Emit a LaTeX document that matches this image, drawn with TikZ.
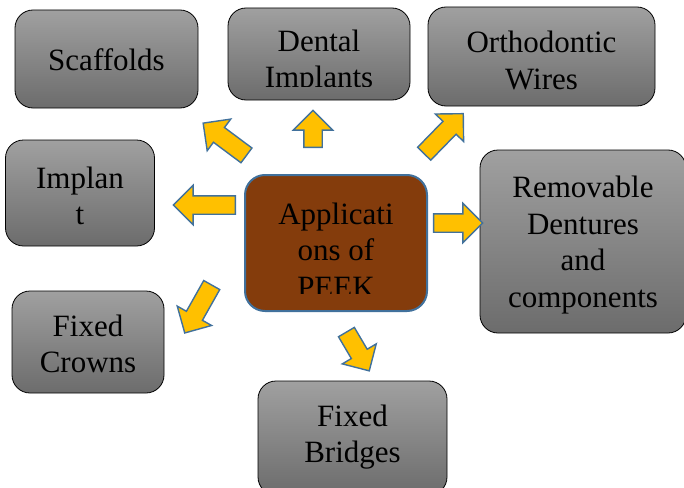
\documentclass[tikz,border=0pt]{standalone}
\usepackage{fontspec}
\setmainfont{Liberation Serif}
\newfontfamily\boxfont{Liberation Serif}
\usepackage{tikz}
\usetikzlibrary{shapes.arrows}
\definecolor{boxtop}{RGB}{160,160,160}
\definecolor{boxbottom}{RGB}{108,108,108}
\definecolor{peekbrown}{RGB}{132,60,12}
\definecolor{edgeblue}{RGB}{65,113,156}
\definecolor{arrowgold}{RGB}{255,192,0}

\begin{document}
\begin{tikzpicture}[x=1pt, y=-1pt, font=\boxfont\fontsize{31}{36.5}\selectfont,
  appbox/.style={rectangle, rounded corners=18pt, draw=black, line width=0.8pt, top color=boxtop, bottom color=boxbottom, align=center, inner sep=0pt},
  hubbox/.style={rectangle, rounded corners=20pt, draw=edgeblue, line width=2pt, fill=peekbrown, align=center, inner sep=0pt},
  boxtext/.style={align=center, inner sep=0pt},
  pointer/.style={single arrow, draw=edgeblue, fill=arrowgold, line width=1.4pt, inner xsep=0pt, inner ysep=8.5pt, single arrow head extend=10.5pt, single arrow tip angle=90, minimum height=#1}]
%
\clip (0,0) rectangle (684,487);

% APPLICATIONS OF PEEK
\node [hubbox, minimum width=182pt, minimum height=136pt] (peek) at (336,243) {};
\begin{scope}
\clip (peek.north west) rectangle ([yshift=19pt]peek.south east);
\node [boxtext] (peektext) at (336,250) {Applicati\\ons of\\PEEK};
\end{scope}

% SCAFFOLDS
\node [appbox, minimum width=183pt, minimum height=98pt] (scaff) at (106.5,59) {};
\node [boxtext] (scafftext) at (106.5,60) {Scaffolds};
% DENTAL IMPLANTS
\node [appbox, minimum width=182pt, minimum height=92pt] (dental) at (319,54) {};
\begin{scope}
\clip (dental.north west) rectangle ([yshift=14pt]dental.south east);
\node [boxtext] (dentaltext) at (319,62) {Dental\\Implants};
\end{scope}
% ORTHODONTIC WIRES
\node [appbox, minimum width=227pt, minimum height=99pt] (ortho) at (541.5,56.5) {};
\node [boxtext] (orthotext) at (541.5,60.5) {Orthodontic\\Wires};
% IMPLANT
\node [appbox, minimum width=149pt, minimum height=106pt] (implant) at (80,193) {};
\node [boxtext] (implanttext) at (80,196) {Implan\\t};
% REMOVABLE DENTURES
\node [appbox, minimum width=206pt, minimum height=183pt] (dentures) at (583,241.5) {};
\node [boxtext] (denturestext) at (583,245) {Removable\\Dentures\\and\\components};
% FIXED CROWNS
\node [appbox, minimum width=152pt, minimum height=102pt] (crowns) at (88,342) {};
\node [boxtext] (crownstext) at (88,344) {Fixed\\Crowns};
% FIXED BRIDGES
\node [appbox, minimum width=189pt, minimum height=114pt] (bridges) at (352.5,438) {};
\node [boxtext] (bridgestext) at (352.5,437) {Fixed\\Bridges};

% ARROWS
\node [pointer=37pt, rotate=90] (todental) at (313,133.5) {};
\node [pointer=54pt, rotate=143.3] (toscaff) at (228.5,142) {};
\node [pointer=56pt, rotate=45.7] (toortho) at (440.5,137) {};
\node [pointer=62pt, rotate=180] (toimplant) at (209,205) {};
\node [pointer=49pt] (todentures) at (453.5,223) {};
\node [pointer=55pt, rotate=240.6] (tocrowns) at (200.5,305) {};
\node [pointer=45pt, rotate=-59.5] (tobridges) at (355.5,347.5) {};
\end{tikzpicture}
\end{document}
